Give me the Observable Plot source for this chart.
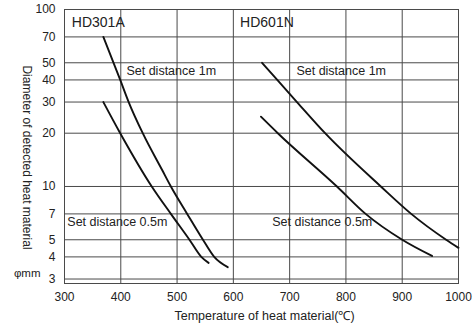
<!DOCTYPE html>
<html>
<head>
<meta charset="utf-8">
<script src="https://cdn.jsdelivr.net/npm/d3@7"></script>
<script src="https://cdn.jsdelivr.net/npm/@observablehq/plot@0.6"></script>
<style>
  html, body { margin: 0; padding: 0; background: #fff; }
  #chart { width: 476px; height: 326px; }
</style>
</head>
<body>
<div id="chart"></div>
<script>
// Tick values
const xTicks = [300, 400, 500, 600, 700, 800, 900, 1000];
const yTicks = [3, 4, 5, 7, 10, 20, 30, 40, 50, 70, 100];

// HD301A curves (temperature °C, diameter mm)
const hd301_1m_t = [369, 399, 414, 439, 474, 489, 518, 546, 566, 590];
const hd301_1m_d = [70, 40, 30, 20, 12.3, 10, 7, 5, 4, 3.5];
const hd301_05m_t = [369, 399, 455, 489, 522, 543, 556];
const hd301_05m_d = [30, 20, 10, 7, 5, 4, 3.7];

// HD601N curves
const hd601_1m_t = [651, 678, 713, 763, 862, 916, 978, 1000];
const hd601_1m_d = [50, 40, 30, 20, 10, 7, 5, 4.5];
const hd601_05m_t = [649, 679, 784, 835, 900, 953];
const hd601_05m_d = [24.8, 20, 10, 7, 5, 4.05];

// Annotations
const labelText = ["HD301A", "HD601N", "Set distance 1m", "Set distance 1m", "Set distance 0.5m", "Set distance 0.5m"];
const labelX = [313, 612, 410, 712, 305, 669];
const labelY = [84, 84, 45, 45, 6.3, 6.3];
const labelBig = [true, true, false, false, false, false];

const toSeries = (ts, ds, name) => ts.map((t, i) => ({t, d: ds[i], name}));
const curves = [
  ...toSeries(hd301_1m_t, hd301_1m_d, "a1"),
  ...toSeries(hd301_05m_t, hd301_05m_d, "a05"),
  ...toSeries(hd601_1m_t, hd601_1m_d, "n1"),
  ...toSeries(hd601_05m_t, hd601_05m_d, "n05")
];
const labels = labelText.map((s, i) => ({s, x: labelX[i], y: labelY[i], big: labelBig[i]}));

const gridY = yTicks.filter(v => v < 100);
const gridX = xTicks.filter(v => v > 300 && v < 1000);

const font = "'Liberation Sans', Arial, Helvetica, sans-serif";
const ink = "#222";

const chart = Plot.plot({
  width: 476,
  height: 326,
  marginLeft: 64,
  marginRight: 18,
  marginTop: 9,
  marginBottom: 43,
  style: {fontFamily: font, fontSize: "12px", color: ink, background: "#fff"},
  x: {domain: [300, 1000], axis: null},
  y: {type: "log", domain: [2.83, 100], axis: null},
  marks: [
    Plot.ruleY(gridY, {stroke: "#4a4a4a", strokeWidth: 1}),
    Plot.ruleX(gridX, {stroke: "#4a4a4a", strokeWidth: 1}),
    Plot.frame({stroke: "#4a4a4a", strokeWidth: 1}),
    Plot.line(curves, {x: "t", y: "d", z: "name", stroke: "#111", strokeWidth: 1.9, curve: "monotone-x"}),
    Plot.text(labels.filter(d => d.big), {x: "x", y: "y", text: "s", textAnchor: "start", fontSize: 14, fill: ink}),
    Plot.text(labels.filter(d => !d.big), {x: "x", y: "y", text: "s", textAnchor: "start", fontSize: 12.5, fill: ink}),
    // tick labels
    Plot.text(yTicks, {y: d => d, text: d => String(d), frameAnchor: "left", dx: -9, textAnchor: "end", lineAnchor: "middle", fontSize: 12, fill: ink}),
    Plot.text(xTicks, {x: d => d, text: d => String(d), frameAnchor: "bottom", dy: 14, textAnchor: "middle", lineAnchor: "middle", fontSize: 12, fill: ink}),
    // axis titles
    Plot.text(["Diameter of detected heat material"], {frameAnchor: "left", dx: -38, dy: 11, rotate: 90, textAnchor: "middle", lineAnchor: "middle", fontSize: 12, fill: ink}),
    Plot.text(["φmm"], {frameAnchor: "bottom-left", dx: -24, dy: -10, textAnchor: "end", lineAnchor: "middle", fontSize: 11.5, fill: ink}),
    Plot.text(["Temperature of heat material(℃)"], {frameAnchor: "bottom", dx: 3, dy: 32, textAnchor: "middle", lineAnchor: "middle", fontSize: 12.5, fill: ink})
  ]
});
document.getElementById("chart").appendChild(chart);
</script>
</body>
</html>
